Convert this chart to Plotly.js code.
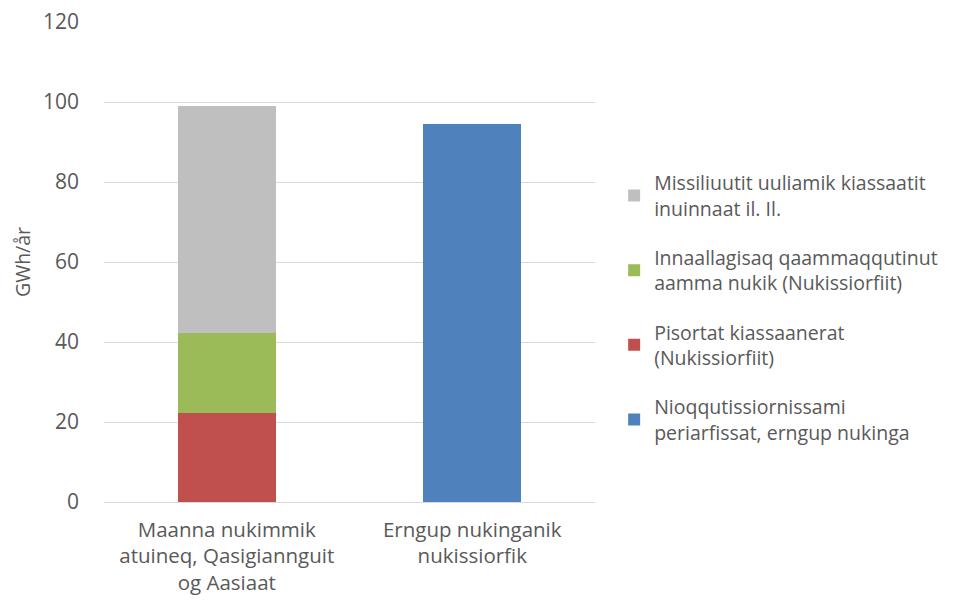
<!DOCTYPE html>
<html>
<head>
<meta charset="utf-8">
<script src="https://cdn.plot.ly/plotly-3.0.1.min.js"></script>
<style>html,body{margin:0;padding:0;background:#fff;}#chart{width:961px;height:601px;}</style>
</head>
<body>
<div id="chart"></div>
<script>
const categories = ["Maanna nukimmik<br>atuineq, Qasigiannguit<br>og Aasiaat", "Erngup nukinganik<br>nukissiorfik"];
const seriesNames = [
  "Nioqqutissiornissami<br>periarfissat, erngup nukinga",
  "Pisortat kiassaanerat<br>(Nukissiorfiit)",
  "Innaallagisaq qaammaqqutinut<br>aamma nukik (Nukissiorfiit)",
  "Missiliuutit uuliamik kiassaatit<br>inuinnaat il. Il."
];
const blueValues = [null, 94.5];
const redValues = [22.2, null];
const greenValues = [20.1, null];
const grayValues = [56.7, null];
const colors = ["#4f81bd", "#c0504d", "#9bbb59", "#bfbfbf"];
const legendRanks = [4, 3, 2, 1];
const yTicks = [0, 20, 40, 60, 80, 100, 120];

const vals = [blueValues, redValues, greenValues, grayValues];
const data = vals.map((v, i) => ({
  type: "bar",
  x: categories,
  y: v,
  name: seriesNames[i],
  legendgroup: "g" + i,
  legendrank: legendRanks[i],
  marker: {color: colors[i]},
  width: 0.4,
  hoverinfo: "y+name"
}));

const fam = "Open Sans, Liberation Sans, sans-serif";
const layout = {
  width: 961, height: 601,
  margin: {l: 104, r: 366, t: 22, b: 99},
  barmode: "stack",
  paper_bgcolor: "#fff", plot_bgcolor: "#fff",
  font: {family: fam, color: "#595959", size: 19.5},
  showlegend: true,
  legend: {
    x: 1.039, xanchor: "left", y: 0.405, yanchor: "middle",
    traceorder: "grouped",
    tracegroupgap: 21,
    font: {family: fam, color: "#595959", size: 19.5},
    itemwidth: 30
  },
  xaxis: {
    showline: false, zeroline: false, showgrid: false,
    tickfont: {family: fam, size: 20.5, color: "#595959"},
    ticklabelstandoff: 13,
    ticks: ""
  },
  yaxis: {
    range: [0, 120],
    tickvals: yTicks,
    showgrid: true, gridcolor: "#d9d9d9", gridwidth: 1,
    zeroline: true, zerolinecolor: "#d9d9d9", zerolinewidth: 1,
    showline: false,
    tickfont: {family: fam, size: 21, color: "#595959"},
    ticklabelstandoff: 24,
    title: {text: "GWh/år", font: {family: fam, size: 19.5, color: "#595959"}, standoff: 7}
  }
};
Plotly.newPlot("chart", data, layout, {displayModeBar: false, responsive: false});
</script>
</body>
</html>
